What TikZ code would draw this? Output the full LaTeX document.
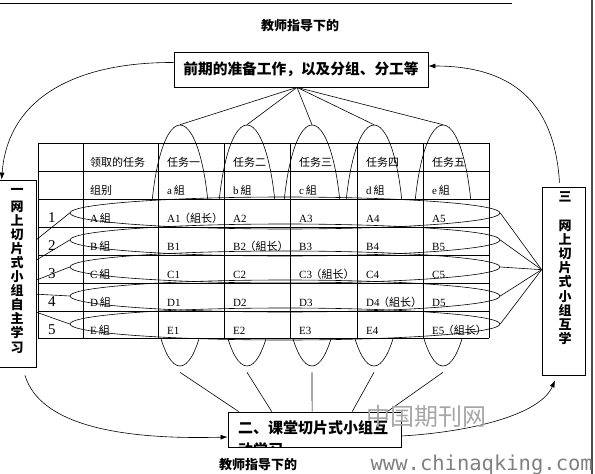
\documentclass[tikz,border=0pt]{standalone}
\usepackage{fontspec}
\setmainfont{Liberation Serif}
\newfontfamily\cjk{Noto Sans CJK SC}
\newfontfamily\mono{DejaVu Sans Mono}
\usetikzlibrary{arrows.meta, positioning, calc, shapes.geometric}
\newcommand{\zh}[1]{{\cjk #1}}
\newcommand{\lead}{\kern-1.5pt\zh{（組长）}}

\begin{document}
\begin{tikzpicture}[x=1pt, y=-1pt, >=Latex,
  box/.style={draw, line width=0.8pt, inner sep=0pt, fill=white},
  vring/.style={draw, ellipse, line width=0.6pt, inner sep=0pt, minimum width=60pt, minimum height=241pt},
  hring/.style={draw, ellipse, line width=0.6pt, inner sep=0pt, minimum width=430pt, minimum height=32pt},
  link/.style={line width=0.6pt},
  flow/.style={line width=0.6pt, -{Latex[length=7pt,width=5pt]}},
  rule/.style={line width=0.8pt},
  cell/.style={anchor=base west, inner sep=0pt, font=\fontsize{11}{13}\selectfont},
  num/.style={anchor=base west, inner sep=0pt, font=\fontsize{15}{15}\selectfont},
  title/.style={inner sep=0pt, font={\cjk\bfseries\fontsize{13}{15}\selectfont}},
  stack/.style={inner sep=0pt, align=center, font={\cjk\bfseries\fontsize{13}{14.1}\selectfont}}]
  \useasboundingbox (0,0) rectangle (595,474);

  % page rules
  \draw[rule] (0,3) -- (512,3);
  \draw[line width=1.2pt, black!70] (592,0) -- (592,474);

  \node[title] (guidetop) at (300,26) {教师指导下的};
  \node[title] (guidebot) at (258,465) {教师指导下的};

  % the three stages
  \node[box, minimum width=254pt, minimum height=35pt] (prep) at (301,69.5)
    {\zh{\bfseries\fontsize{14.7}{16}\selectfont 前期的准备工作，以及分组、分工等}};
  \node[box, minimum width=40pt, minimum height=187pt] (selfstudy) at (16,273.5) {};
  \node[stack] (selftxt) at (17,271) {一\\[2pt]网\\上\\切\\片\\式\\小\\组\\自\\主\\学\\习};
  \node[box, minimum width=43pt, minimum height=188pt] (peer) at (563.5,281) {};
  \node[stack] (peertxt) at (565,268) {三\\[15pt]网\\上\\切\\片\\式\\小\\组\\互\\学};
  \node[box, minimum width=173pt, minimum height=35pt] (class) at (314.5,429.5) {};
  \begin{scope}
    \clip ([shift={(0.5pt,-0.5pt)}]class.north west) rectangle ([shift={(-0.5pt,0.5pt)}]class.south east);
    \node[anchor=west, inner sep=0pt, font={\cjk\bfseries\fontsize{15}{17}\selectfont}] (classtxt) at (238,428) {二、课堂切片式小组互};
    \node[anchor=west, inner sep=0pt, font={\cjk\bfseries\fontsize{15}{17}\selectfont}] (classrest) at (238,449.5) {动学习};
  \end{scope}

  % task rings (columns)
  \foreach \x [count=\i] in {180,247,312,374,443}
    \node[vring] (task\i) at (\x,245.5) {};
  \fill[white] (38,199) rectangle (489,338);

  % group rings (rows)
  \foreach \y [count=\i] in {213,240,267,296,324}
    \node[hring] (grp\i) at (285,\y) {};

  % table
  \foreach \x in {38,83,158,224,290,357,423,489}
    \draw[rule] (\x,143) -- (\x,338);
  \foreach \y in {143,171,199,227,255,283,311,338}
    \draw[rule] (38,\y) -- (489,\y);

  \node[cell] (hdr0) at (90,166) {\zh{领取的任务}};
  \node[cell] (lbl0) at (90,194) {\zh{组别}};
  \foreach \t/\l/\x [count=\i] in {一/a/167, 二/b/233, 三/c/299, 四/d/366, 五/e/432}{
    \node[cell] (hdr\i) at (\x,166) {\zh{任务\t}};
    \node[cell] (lbl\i) at (\x,194) {\l\,\zh{組}};
  }
  \foreach \gname/\ka/\kb/\kc/\kd/\ke [count=\row] in
    {A/A1\lead/A2/A3/A4/A5, B/B1/B2\lead/B3/B4/B5, C/C1/C2/C3\lead/C4/C5,
     D/D1/D2/D3/D4\lead/D5, E/E1/E2/E3/E4/E5\lead}{
    \pgfmathsetmacro{\yb}{194+28*\row}
    \node[num] (num\row) at (48,\yb) {\row};
    \node[cell] (name\row) at (90,\yb) {\gname\,\zh{組}};
    \node[cell] (ca\row) at (167,\yb) {\ka};
    \node[cell] (cb\row) at (233,\yb) {\kb};
    \node[cell] (cc\row) at (299,\yb) {\kc};
    \node[cell] (cd\row) at (366,\yb) {\kd};
    \node[cell] (ce\row) at (432,\yb) {\ke};
  }

  % fans
  \foreach \i in {1,...,5}
    \draw[link] ([xshift=-4pt]prep.south) -- (task\i.north);
  \foreach \i/\f in {1/0.064, 2/0.254, 3/0.486, 4/0.717, 5/0.919}
    \draw[link] ([yshift=-6pt]task\i.south) -- ($(class.north west)!\f!(class.north east)$);
  \foreach \i/\f in {1/0.32, 2/0.428, 3/0.535, 4/0.61, 5/0.706}
    \draw[link] ($(selfstudy.north east)!\f!(selfstudy.south east)$) -- (grp\i.west);
  \coordinate (hub) at ($(peer.north west)!0.44!(peer.south west)$);
  \foreach \i in {1,...,5}
    \draw[link] (grp\i.east) -- (hub);

  % cycle arrows
  \draw[flow] ([yshift=7pt]prep.west) .. controls (80,62) and (8,95) .. ([xshift=6pt]selfstudy.north west);
  \draw[flow] ([xshift=9pt,yshift=-8pt]selfstudy.south) .. controls (40,425) and (120,440) .. ([yshift=-7.5pt]class.west);
  \draw[flow] ([yshift=-6.5pt]class.east) .. controls (470,432) and (540,415) .. ([xshift=-8.5pt,yshift=-5pt]peer.south);
  \draw[flow] ([xshift=-4pt,yshift=4pt]peer.north) .. controls (555,110) and (520,66) .. ([yshift=3.5pt]prep.east);

  % watermark
  \node[anchor=west, inner sep=0pt, text=black!35, font={\cjk\fontsize{24}{24}\selectfont}] (mark) at (366,416) {中国期刊网};
  \node[anchor=base east, inner sep=0pt, text=black!50, font={\mono\fontsize{20.5}{21}\selectfont}] (site) at (593,470) {www.chinaqking.com};
\end{tikzpicture}
\end{document}
